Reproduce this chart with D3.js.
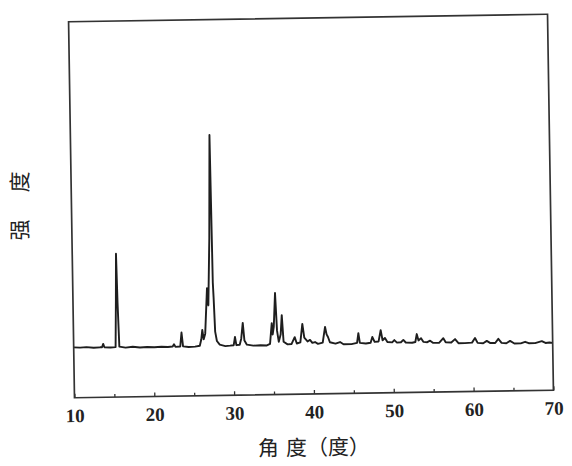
<!DOCTYPE html>
<html>
<head>
<meta charset="utf-8">
<script src="https://cdn.jsdelivr.net/npm/d3@7"></script>
<style>
  body { margin: 0; background: #fff; }
</style>
</head>
<body>
<svg id="chart" width="572" height="466"></svg>
<script>
// 2θ (degrees) and intensity, point by point
let twoTheta = [
  10.0, 10.8, 11.6, 12.5, 13.3, 13.55, 13.7, 13.85, 14.6, 15.25, 15.38, 15.48, 15.58, 15.72,
  16.5, 17.4, 18.3, 19.2, 20.1, 21.0, 21.8, 22.4, 22.57, 22.75, 23.35, 23.53, 23.7, 24.4,
  25.2, 25.8, 26.0, 26.14, 26.3, 26.5, 26.81, 26.95, 27.2, 27.42, 27.55, 27.62, 27.75, 27.95,
  28.3, 29.0, 29.6, 30.05, 30.22, 30.38, 30.8, 31.0, 31.22, 31.4, 31.7, 32.5, 33.4, 34.2,
  34.6, 34.85, 34.95, 35.1, 35.32, 35.5, 35.7, 35.95, 36.12, 36.3, 36.8, 37.3, 37.7, 37.95,
  38.4, 38.68, 38.9, 39.3, 39.61, 39.9, 40.24, 40.6, 41.2, 41.52, 41.7, 41.87, 42.1, 42.8,
  43.37, 43.8, 44.8, 45.5, 45.68, 45.85, 46.6, 47.2, 47.42, 47.7, 48.2, 48.48, 48.7, 49.0,
  49.3, 49.9, 50.17, 50.5, 51.0, 51.3, 51.6, 52.4, 52.8, 52.99, 53.2, 53.52, 53.8, 54.3,
  54.65, 55.0, 55.8, 56.31, 56.6, 57.3, 57.78, 58.2, 59.0, 59.9, 60.28, 60.6, 61.3, 61.75,
  62.2, 62.8, 63.2, 63.6, 64.2, 64.67, 65.2, 66.0, 66.55, 67.0, 67.8, 68.64, 69.1, 69.6, 70.0
]
let intensity = [
  134, 133, 134, 132, 133, 133, 142, 133, 132, 133, 260, 381, 250, 134,
  131, 133, 131, 132, 131, 132, 131, 132, 138, 131, 132, 169, 132, 130,
  131, 133, 150, 175, 150, 165, 286, 240, 420, 693, 300, 261, 170, 145,
  135, 131, 132, 133, 155, 133, 134, 150, 192, 145, 134, 131, 132, 131,
  135, 190, 160, 180, 270, 170, 140, 160, 211, 140, 133, 134, 152, 135,
  138, 187, 150, 140, 144, 136, 138, 133, 136, 178, 158, 151, 137, 133,
  137, 131, 131, 134, 160, 134, 132, 134, 149, 136, 137, 167, 140, 146,
  135, 134, 140, 133, 134, 140, 133, 132, 134, 155, 138, 144, 134, 133,
  137, 131, 131, 143, 132, 131, 140, 129, 129, 130, 142, 129, 128, 134,
  128, 128, 139, 128, 127, 133, 126, 126, 130, 126, 126, 131, 126, 127, 126
]
let xTicks = [10, 20, 30, 40, 50, 60, 70]
let xMinorTicks = [15, 25, 35, 45, 55, 65]
let xTitle = ["角", "度（度）"]
let yTitle = ["强", "度"]

let margin = {top: 18, right: 21.5, bottom: 72, left: 71.5}
let width = 572, height = 466

function make_scales() {
  return {
    x: d3.scaleLinear()
      .domain([10, 70])
      .range([margin.left, width - margin.right]),
    y: d3.scaleLinear()
      .domain([0, 1000])
      .range([height - margin.bottom, margin.top])
  }
}

function draw_trace(g, scales) {
  let points = twoTheta.map((t, i) => ({t: t, v: intensity[i]}))
  let line_generator = d3.line()
    .x(d => scales.x(d.t))
    .y(d => scales.y(d.v))

  g.append("path")
    .datum(points)
    .attr("d", line_generator)
    .attr("fill", "none")
    .attr("stroke", "#1e1e1e")
    .attr("stroke-width", 1.9)
    .attr("stroke-linejoin", "round")
}

function draw_frame(g, scales) {
  let [x0, x1] = scales.x.range()
  let [y0, y1] = scales.y.range()
  g.append("rect")
    .attr("x", x0)
    .attr("y", y1)
    .attr("width", x1 - x0)
    .attr("height", y0 - y1)
    .attr("fill", "none")
    .attr("stroke", "#333")
    .attr("stroke-width", 1.7)
}

function draw_axes(g, scales) {
  let y0 = scales.y.range()[0]
  let major = d3.axisBottom(scales.x)
    .tickValues(xTicks)
    .tickSize(-4)
    .tickPadding(11)
    .tickFormat(d3.format("d"))
  let minor = d3.axisBottom(scales.x)
    .tickValues(xMinorTicks)
    .tickSize(-3)
    .tickFormat("")

  let ax = g.append("g")
    .attr("transform", `translate(0, ${y0})`)
    .call(major)
  g.append("g")
    .attr("transform", `translate(0, ${y0})`)
    .call(minor)
    .select(".domain").remove()

  ax.select(".domain").remove()
  g.selectAll(".tick line")
    .attr("stroke", "#333")
    .attr("stroke-width", 1.3)
  ax.selectAll(".tick text")
    .attr("fill", "#222")
    .attr("font-family", "'Liberation Serif', serif")
    .attr("font-weight", "bold")
    .attr("font-size", 19)

  g.selectAll("text.xtitle")
    .data(xTitle).enter()
    .append("text")
    .attr("class", "xtitle")
    .attr("x", (d, i) => i == 0 ? 254 : 282)
    .attr("y", 455)
    .attr("text-anchor", i => "start")
    .attr("font-family", "'Noto Sans CJK SC', sans-serif")
    .attr("font-size", 21)
    .attr("fill", "#222")
    .text(d => d)
}

function draw_ytitle(svg) {
  svg.selectAll("text.ytitle")
    .data(yTitle).enter()
    .append("text")
    .attr("class", "ytitle")
    .attr("transform", (d, i) => `translate(27, ${230 - i * 48}) rotate(-90)`)
    .attr("text-anchor", "middle")
    .attr("font-family", "'Noto Sans CJK SC', sans-serif")
    .attr("font-size", 21)
    .attr("fill", "#222")
    .text(d => d)
}

function visualize() {
  let svg = d3.select("#chart")
  svg.append("rect").attr("width", width).attr("height", height).attr("fill", "#fff")
  // the scan is tilted slightly
  let g = svg.append("g")
    .attr("transform", "rotate(-0.9, 311, 206)")
  let scales = make_scales()
  draw_trace(g, scales)
  draw_frame(g, scales)
  draw_axes(g, scales)
  draw_ytitle(svg)
}

visualize()
</script>
</body>
</html>
